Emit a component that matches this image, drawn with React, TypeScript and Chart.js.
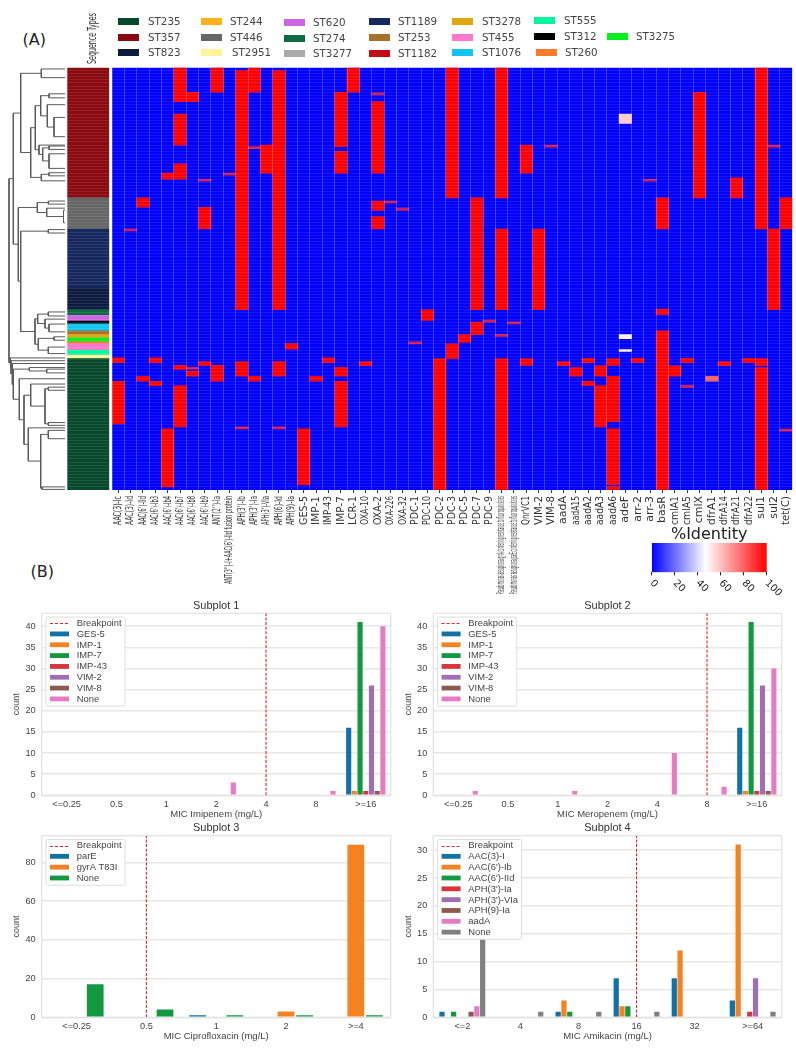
import React, { useEffect, useRef } from "react";
import { Chart, registerables } from "chart.js";

Chart.register(...registerables);

const ROW_COUNT = 136;

const genes = [
  "AAC(3)-Ic", "AAC(3)-Id", "AAC(6')-IId", "AAC(6')-Ib3", "AAC(6')-Ib4", "AAC(6')-Ib7", "AAC(6')-Ib8", "AAC(6')-Ib9",
  "ANT(2'')-Ia", "ANT(3'')-I+AAC(6')-IId fusion protein", "APH(3')-Ib", "APH(3')-Ia", "APH(3')-VIa", "APH(6)-Id", "APH(9)-Ia",
  "GES-5", "IMP-1", "IMP-43", "IMP-7", "LCR-1", "OXA-10", "OXA-2", "OXA-226", "OXA-32", "PDC-1", "PDC-10", "PDC-2", "PDC-3",
  "PDC-5", "PDC-7", "PDC-9", "Pseudomonas aeruginosa gyrA conferring resistance to fluoroquinolones",
  "Pseudomonas aeruginosa parE conferring resistance to fluoroquinolones", "QnrVC1", "VIM-2", "VIM-8", "aadA", "aadA15", "aadA2",
  "aadA3", "aadA6", "adeF", "arr-2", "arr-3", "basR", "cmlA1", "cmlA5", "cmlX", "dfrA1", "dfrA14", "dfrA21", "dfrA22", "sul1", "sul2", "tet(C)",
];

// [gene column, first row, last row, %identity]
const hits: [number, number, number, number][] = [
  [0, 93.5, 95, 100], [0, 101, 114.7, 100],
  [1, 52, 52.65, 100],
  [2, 42, 45, 100], [2, 99.4, 101, 100],
  [3, 93.5, 95, 100], [3, 101, 102.4, 100],
  [4, 34, 36, 100], [4, 116.3, 135, 100],
  [5, 0, 11, 100], [5, 15, 25, 100], [5, 31, 36, 100], [5, 95.9, 97.2, 100], [5, 102.4, 115.7, 100],
  [6, 8, 11, 100], [6, 96.5, 97.15, 100], [6, 97.7, 99.4, 100],
  [7, 36, 36.65, 100], [7, 45, 52, 100], [7, 94.7, 95.9, 100],
  [8, 0, 8, 100], [8, 95.9, 101, 100],
  [9, 34, 34.65, 100],
  [10, 1, 78, 100], [10, 94.7, 99.4, 100], [10, 115.7, 116.35, 100],
  [11, 0, 8, 100], [11, 25.5, 26.15, 100], [11, 99.4, 101, 100],
  [12, 25, 34, 100],
  [13, 1, 78, 100], [13, 94.7, 99.4, 100], [13, 115.7, 116.35, 100],
  [14, 88.9, 90.7, 100],
  [15, 116.3, 134.3, 100],
  [16, 99.4, 101, 100],
  [17, 93.5, 95, 100],
  [18, 8, 25.5, 100], [18, 27, 34, 100], [18, 96.5, 99.4, 100], [18, 101, 115.7, 100],
  [19, 0, 8, 100],
  [20, 94.7, 96, 100],
  [21, 8.2, 8.85, 100], [21, 11, 34, 100], [21, 43, 46, 100], [21, 48, 52, 100],
  [22, 43, 43.65, 100],
  [23, 45.3, 45.95, 100],
  [24, 88.3, 88.95, 100],
  [25, 78, 81.4, 100],
  [26, 93.7, 136, 100],
  [27, 0, 42, 100], [27, 89, 93.7, 100],
  [28, 86, 88.5, 100],
  [29, 42, 78, 100], [29, 82, 86, 100],
  [30, 81.3, 81.95, 100],
  [31, 0, 42, 100], [31, 52, 78, 100], [31, 85.9, 86.55, 100], [31, 93.7, 136, 100],
  [32, 81.9, 82.55, 100],
  [33, 25, 34, 100], [33, 93.7, 95.9, 100],
  [34, 52, 78, 100],
  [35, 25, 25.65, 100],
  [36, 94.7, 96, 100],
  [37, 96.6, 99.4, 100],
  [38, 93.6, 95, 100], [38, 101, 102.4, 100],
  [39, 96, 99.4, 100], [39, 102.4, 115.7, 100],
  [40, 93.7, 95.9, 100], [40, 99.4, 114, 100], [40, 116.3, 134.3, 100], [40, 134.9, 136, 100],
  [41, 15, 18, 60], [41, 86, 87.3, 53], [41, 90.8, 91.4, 53],
  [42, 93.6, 95, 100],
  [43, 36, 36.65, 100],
  [44, 42, 52, 100], [44, 77.8, 79.6, 100], [44, 84.8, 136, 100],
  [45, 96, 99.4, 100],
  [46, 93.6, 95, 100], [46, 102.3, 102.95, 100],
  [47, 8, 42, 100],
  [48, 99.4, 101, 81],
  [49, 94.7, 96, 100],
  [50, 35.5, 42, 100],
  [51, 93.6, 95, 100],
  [52, 0, 52, 100], [52, 93.7, 95.9, 100], [52, 96.6, 136, 100],
  [53, 25, 25.65, 100], [53, 52, 78, 100],
  [54, 42, 52, 100], [54, 116.4, 117.05, 100],
];

const stNames = ["ST235", "ST357", "ST823", "ST244", "ST446", "ST2951", "ST620", "ST274", "ST3277", "ST1189", "ST253", "ST1182", "ST3278", "ST455", "ST1076", "ST555", "ST312", "ST260", "ST3275"];
const stColors = ["#06492c", "#8b0a0f", "#0e1a40", "#fbb117", "#666666", "#fff49a", "#cc66e6", "#0e6a40", "#aaaaaa", "#15295f", "#a8702a", "#c40a14", "#e0a80c", "#ff77cc", "#11c5f0", "#00f5a0", "#000000", "#ff7a2a", "#00f020"];
// legend layout: [swatch left, text left, centre y]
const stLegendSpots: [number, number, number][] = [
  [118, 148, 21], [118, 148, 37], [118, 148, 52],
  [201, 230, 21], [201, 230, 37], [201, 232, 52],
  [284, 313, 22], [284, 313, 38], [284, 313, 53],
  [369, 398, 21], [369, 398, 37], [369, 398, 53],
  [452, 482, 21], [452, 482, 37], [452, 482, 52],
  [534, 564, 20], [534, 564, 36], [536, 565, 52],
  [607, 636, 36],
];

const stripST = ["ST357", "ST446", "ST1189", "ST823", "ST274", "ST620", "ST312", "ST1076", "ST253", "ST3278", "ST3275", "ST260", "ST455", "ST555", "ST2951", "ST235"];
const stripStart = [0, 42, 52, 71, 78, 79.8, 81.6, 82.5, 84.8, 86, 87, 88.3, 89, 91, 92.6, 93.7];
const stripEnd = [42, 52, 71, 78, 79.8, 81.6, 82.5, 84.8, 86, 87, 88.3, 89, 91, 92.6, 93.7, 136];

// dendrogram links: [row A, row B, height A, height B, parent height]
const dendroLinks: [number, number, number, number, number][] = [
  [0.5, 3.3, 0, 0, 23.7],
  [8.5, 9.8, 0, 0, 16], [16.1, 22.3, 0, 0, 11], [12, 19.2, 0, 11, 17.7], [9.1, 15.6, 16, 17.7, 24.3],
  [25.3, 26.4, 0, 0, 16], [27.8, 32.5, 0, 0, 16], [25.9, 30.1, 16, 16, 22.3], [25, 28, 0, 22.3, 26],
  [12.3, 26.5, 24.3, 26, 29.7], [33.9, 34.9, 0, 0, 16], [34.4, 36.5, 16, 0, 23.7], [19.4, 35.4, 29.7, 23.7, 34.3],
  [1.9, 27.4, 23.7, 34.3, 44.3],
  [43, 44, 0, 0, 16.6], [46, 50, 0, 0, 1.5], [45.3, 48, 0, 1.5, 18.3], [43.5, 46.7, 16.6, 18.3, 27.7],
  [52.2, 53.3, 0, 0, 16.7], [78.7, 80, 0, 0, 16.7], [82.6, 85.1, 0, 0, 16], [81, 83.9, 0, 16, 20],
  [79.4, 82.4, 16.7, 20, 27.3], [86.7, 87.8, 0, 0, 11], [90, 92.1, 0, 0, 16.7], [87.2, 91, 11, 16.7, 26.7],
  [80.9, 89.1, 27.3, 26.7, 30], [52.7, 85, 16.7, 30, 44.3], [45.1, 68.8, 27.7, 44.3, 46.7],
  [14.7, 56.9, 44.3, 46.7, 51.7],
  [97.1, 98.3, 0, 0, 18.3], [96.6, 97.7, 0, 18.3, 35.7], [102.9, 103.9, 0, 0, 16.7], [114.3, 115.2, 0, 0, 16.7],
  [103.4, 114.7, 16.7, 16.7, 20], [101.9, 109, 0, 20, 34.3], [116.8, 119.5, 0, 0, 16.7], [135, 135.8, 0, 0, 23],
  [118.1, 135.4, 16.7, 23, 24.3], [116, 126.7, 0, 24.3, 36.7], [105.5, 121.3, 34.3, 36.7, 41],
  [100.2, 113.4, 0, 41, 45.7], [97.1, 106.8, 35.7, 45.7, 51.7], [95.3, 102, 0, 51.7, 52.7],
  [94.4, 98.6, 0, 52.7, 54], [93.5, 96.5, 0, 54, 55], [35.8, 95, 51.7, 55, 56],
];

const micImipenem = ["<=0.25", "0.5", "1", "2", "4", "8", ">=16"];
const micMeropenem = ["<=0.25", "0.5", "1", "2", "4", "8", ">=16"];
const micCipro = ["<=0.25", "0.5", "1", "2", ">=4"];
const micAmikacin = ["<=2", "4", "8", "16", "32", ">=64"];

const s1Names = ["GES-5", "IMP-1", "IMP-7", "IMP-43", "VIM-2", "VIM-8", "None"];
const s1Values = [
  [0, 0, 0, 0, 0, 0, 16], [0, 0, 0, 0, 0, 0, 1], [0, 0, 0, 0, 0, 0, 41], [0, 0, 0, 0, 0, 0, 1],
  [0, 0, 0, 0, 0, 0, 26], [0, 0, 0, 0, 0, 0, 1], [0, 0, 0, 3, 0, 1, 40],
];
const s2Names = ["GES-5", "IMP-1", "IMP-7", "IMP-43", "VIM-2", "VIM-8", "None"];
const s2Values = [
  [0, 0, 0, 0, 0, 0, 16], [0, 0, 0, 0, 0, 0, 1], [0, 0, 0, 0, 0, 0, 41], [0, 0, 0, 0, 0, 0, 1],
  [0, 0, 0, 0, 0, 0, 26], [0, 0, 0, 0, 0, 0, 1], [1, 0, 1, 0, 10, 2, 30],
];
const s3Names = ["parE", "gyrA T83I", "None"];
const s3Values = [[0, 0, 1, 0, 0], [0, 0, 0, 3, 89], [17, 4, 1, 1, 1]];
const s4Names = ["AAC(3)-I", "AAC(6')-Ib", "AAC(6')-IId", "APH(3')-Ia", "APH(3')-VIa", "APH(9)-Ia", "aadA", "None"];
const s4Values = [
  [1, 0, 1, 7, 7, 3], [0, 0, 3, 2, 12, 31], [1, 0, 1, 2, 0, 0], [0, 0, 0, 0, 0, 1],
  [0, 0, 0, 0, 0, 7], [1, 0, 0, 0, 0, 0], [2, 0, 0, 0, 0, 0], [15, 1, 1, 1, 0, 1],
];
const barColors = ["#0f72a8", "#f58220", "#12993f", "#d8343a", "#9f6fb5", "#8f5a4e", "#e87ac3", "#808080"];

const colorbarTicks = [0, 20, 40, 60, 80, 100];

const SANS = "'Liberation Sans', Arial, sans-serif";
const DEJAVU = "'DejaVu Sans', sans-serif";
const INK = "#444444";

function bwr(v: number): string {
  if (v <= 50) {
    const c = Math.round((v / 50) * 255);
    return `rgb(${c},${c},255)`;
  }
  const c = Math.round(((100 - v) / 50) * 255);
  return `rgb(255,${c},${c})`;
}

function fixW(w: number) {
  return (s: any) => { s.width = w; };
}
function fixH(h: number) {
  return (s: any) => { s.height = h; };
}

const base = { responsive: false, animation: false as const, devicePixelRatio: 1, events: [] as string[] };

// Upright axis labels squeezed along their length, the way the picture's labels are.
function squeezedLabels(fontSize: number, color: string, anchorY: number, align: "left" | "right", offsetX: number, lengthOf: (label: string) => number) {
  return {
    id: "squeezedLabels",
    afterDraw(chart: any) {
      const { ctx } = chart;
      const xs = chart.scales.x;
      ctx.save();
      ctx.font = `${fontSize}px ${DEJAVU}`;
      ctx.fillStyle = color;
      ctx.textBaseline = "middle";
      ctx.textAlign = align;
      xs.ticks.forEach((t: any, i: number) => {
        const label = chart.data.labels[i];
        const natural = ctx.measureText(label).width;
        const cap = lengthOf(label);
        ctx.save();
        ctx.translate(xs.getPixelForTick(i) + offsetX, anchorY);
        ctx.rotate(-Math.PI / 2);
        ctx.scale(Math.min(1, cap / natural), 1);
        ctx.fillText(label, 0, 0);
        ctx.restore();
      });
      ctx.restore();
    },
  };
}

function geneLabelLength(label: string): number {
  if (label.startsWith("Pseudomonas")) return 98;
  if (label.startsWith("ANT(3")) return 88;
  return 29;
}

function heatmapConfig(): any {
  return {
    type: "bar",
    data: {
      labels: genes,
      datasets: [
        {
          label: "hits",
          order: 1,
          data: hits.map(([c, s, e, v]) => ({ x: genes[c], y: [s, e], v })),
          backgroundColor: (ctx: any) => {
            const r = ctx.raw;
            if (!r) return "red";
            if (r.v === 100 && r.y[1] - r.y[0] < 1) return "#d61c4e";
            return bwr(r.v);
          },
        },
        {
          label: "background",
          order: 2,
          data: genes.map((g) => ({ x: g, y: [0, ROW_COUNT] })),
          backgroundColor: bwr(0),
        },
      ],
    },
    options: {
      ...base,
      layout: { padding: { top: 7.4, right: 3.7, left: 0, bottom: 0 } },
      datasets: { bar: { grouped: false, barPercentage: 1, categoryPercentage: 1, borderWidth: 0 } },
      plugins: { legend: { display: false }, title: { display: false }, tooltip: { enabled: false } },
      scales: {
        x: {
          type: "category",
          offset: true,
          afterFit: fixH(110),
          border: { display: false },
          grid: { offset: false, drawOnChartArea: false, drawTicks: true, tickLength: 3, tickColor: "#333" },
          ticks: { display: false, autoSkip: false },
        },
        x2: {
          type: "category",
          labels: genes,
          position: "top",
          offset: true,
          afterFit: fixH(0),
          border: { display: false },
          grid: { offset: true, z: 1, color: "rgba(255,255,255,0.22)", lineWidth: 1, drawTicks: false },
          ticks: { display: false },
        },
        y: {
          reverse: true,
          min: 0,
          max: ROW_COUNT,
          afterFit: fixW(12),
          border: { display: false },
          grid: { z: 1, color: "rgba(255,255,255,0.09)", lineWidth: 1, drawTicks: false },
          ticks: { display: false, stepSize: 1, autoSkip: false },
        },
      },
    },
    plugins: [squeezedLabels(11, "#333", 436, "right", 0, geneLabelLength)],
  };
}

function stripConfig(): any {
  const label = "Sequence Types";
  return {
    type: "bar",
    data: {
      labels: [label],
      datasets: [
        {
          label,
          data: stripST.map((st, i) => ({ x: label, y: [stripStart[i], stripEnd[i]] })),
          backgroundColor: stripST.map((st) => stColors[stNames.indexOf(st)]),
        },
      ],
    },
    options: {
      ...base,
      layout: { padding: { left: 0, right: 2.7, bottom: 5 } },
      datasets: { bar: { barPercentage: 1, categoryPercentage: 1, borderWidth: 0 } },
      plugins: { legend: { display: false }, tooltip: { enabled: false } },
      scales: {
        x: {
          position: "top",
          afterFit: fixH(67.4),
          border: { display: false },
          grid: { display: false },
          ticks: { display: false },
        },
        y: {
          reverse: true,
          min: 0,
          max: ROW_COUNT,
          afterFit: fixW(7.3),
          border: { display: false },
          grid: { z: 1, color: "rgba(255,255,255,0.1)", drawTicks: false },
          ticks: { display: false, stepSize: 1, autoSkip: false },
        },
      },
    },
    plugins: [squeezedLabels(12, "#333", 64, "left", 4.3, () => 51)],
  };
}

function dendroConfig(): any {
  return {
    type: "scatter",
    data: {
      datasets: dendroLinks.map(([ra, rb, ha, hb, hp]) => ({
        data: [{ x: ha, y: ra }, { x: hp, y: ra }, { x: hp, y: rb }, { x: hb, y: rb }],
        showLine: true,
        pointRadius: 0,
        borderColor: "#5a5a5a",
        borderWidth: 1,
        tension: 0,
        clip: false,
      })),
    },
    options: {
      ...base,
      layout: { padding: { top: 7.4, bottom: 5, left: 5, right: 1 } },
      plugins: { legend: { display: false }, tooltip: { enabled: false } },
      scales: {
        x: { display: false, reverse: true, min: 0, max: 60 },
        y: { display: false, reverse: true, min: 0, max: ROW_COUNT },
      },
    },
  };
}

function colorbarConfig(): any {
  return {
    type: "bar",
    data: {
      labels: ["%Identity"],
      datasets: [
        {
          data: [[colorbarTicks[0], colorbarTicks[colorbarTicks.length - 1]]],
          backgroundColor: (ctx: any) => {
            const a = ctx.chart.chartArea;
            if (!a) return "blue";
            const g = ctx.chart.ctx.createLinearGradient(a.left, 0, a.right, 0);
            g.addColorStop(0, bwr(0));
            g.addColorStop(0.47, bwr(50));
            g.addColorStop(1, bwr(100));
            return g;
          },
        },
      ],
    },
    options: {
      ...base,
      indexAxis: "y",
      layout: { padding: { left: 11.7, right: 23.3 } },
      datasets: { bar: { barPercentage: 1, categoryPercentage: 1, borderWidth: 0 } },
      plugins: {
        legend: { display: false },
        tooltip: { enabled: false },
        title: {
          display: true,
          text: "%Identity",
          color: "#222",
          font: { family: DEJAVU, size: 16, weight: "normal", lineHeight: 1 },
          padding: { top: 7, bottom: 0 },
        },
      },
      scales: {
        y: { display: false },
        x: {
          min: 0,
          max: 100,
          afterFit: (s: any) => {
            s.height = 27.7;
            s._getXAxisLabelAlignment = () => "left";
          },
          border: { display: false },
          grid: { drawOnChartArea: false, tickLength: 3, tickColor: "#222" },
          ticks: { stepSize: 20, minRotation: -45, maxRotation: -45, padding: 2, color: "#222", font: { family: DEJAVU, size: 10 } },
        },
      },
    },
  };
}

const LEGEND_FONT = 9.4;

const boxedLegend = {
  id: "boxedLegend",
  beforeDatasetsDraw(chart: any) {
    const { ctx, chartArea: a } = chart;
    ctx.save();
    ctx.strokeStyle = "#e2e2e2";
    ctx.lineWidth = 1.2;
    ctx.strokeRect(a.left, a.top, a.right - a.left, a.bottom - a.top);
    ctx.restore();
  },
  afterDatasetsDraw(chart: any) {
    const { ctx, chartArea: a } = chart;
    const sets = chart.data.datasets;
    ctx.save();
    ctx.font = `${LEGEND_FONT}px ${SANS}`;
    const textW = Math.max(...sets.map((d: any) => ctx.measureText(d.label).width));
    const left = a.left + 4.3;
    const top = a.top + 3.8;
    const w = 30.7 + textW + 3.6;
    const h = 6 + (sets.length - 1) * 10.83 + 7.2;
    ctx.fillStyle = "rgba(255,255,255,0.97)";
    ctx.strokeStyle = "#dddddd";
    ctx.lineWidth = 1;
    ctx.beginPath();
    ctx.roundRect(left, top, w, h, 1.5);
    ctx.fill();
    ctx.stroke();
    sets.forEach((d: any, i: number) => {
      const y = top + 6 + i * 10.83;
      if (d.type === "line") {
        const ly = Math.round(y) + 0.5;
        ctx.strokeStyle = d.borderColor;
        ctx.lineWidth = 1.1;
        ctx.setLineDash([3, 2]);
        ctx.beginPath();
        ctx.moveTo(left + 4, ly);
        ctx.lineTo(left + 23, ly);
        ctx.stroke();
        ctx.setLineDash([]);
      } else {
        ctx.fillStyle = d.backgroundColor;
        ctx.fillRect(left + 4, y - 2.4, 19, 4.8);
      }
      ctx.fillStyle = INK;
      ctx.textBaseline = "middle";
      ctx.textAlign = "left";
      ctx.fillText(d.label, left + 30.7, y + 0.3);
    });
    ctx.restore();
  },
};

function micConfig(title: string, axisTitle: string, cats: string[], names: string[], values: number[][], breakpoint: string, yMax: number, step: number, geom: { canvasLeft: number; plotLeft: number; plotRight: number; width: number; plotTopRel: number }): any {
  return {
    type: "bar",
    data: {
      labels: cats,
      datasets: [
        {
          type: "line",
          label: "Breakpoint",
          data: [{ x: breakpoint, y: 0 }, { x: breakpoint, y: yMax }],
          borderColor: "#e0262e",
          borderWidth: 1.1,
          borderDash: [3, 1.6],
          pointRadius: 0,
        },
        ...names.map((n, i) => ({
          type: "bar",
          label: n,
          data: values[i],
          backgroundColor: barColors[i],
          barPercentage: 0.9,
          categoryPercentage: 0.8,
          borderWidth: 0,
        })),
      ],
    },
    options: {
      ...base,
      layout: { padding: { left: 0, right: geom.width - (geom.plotRight - geom.canvasLeft), top: 0, bottom: 0 } },
      plugins: {
        legend: { display: false },
        tooltip: { enabled: false },
        title: {
          display: true,
          fullSize: false,
          text: title,
          color: "#333",
          font: { family: SANS, size: 11, weight: "normal", lineHeight: 1.2 },
          padding: { top: 1.4, bottom: geom.plotTopRel - 1.4 - 13.2 },
        },
      },
      scales: {
        x: {
          offset: true,
          afterFit: fixH(24.7),
          border: { display: false },
          grid: { display: false, drawTicks: false },
          ticks: { autoSkip: false, maxRotation: 0, padding: 4, color: INK, font: { family: SANS, size: 9.2 } },
          title: { display: true, text: axisTitle, color: INK, font: { family: SANS, size: 9.5, lineHeight: 1.2 }, padding: { top: 1, bottom: 0 } },
        },
        y: {
          min: 0,
          max: yMax,
          afterFit: fixW(geom.plotLeft - geom.canvasLeft),
          border: { display: false },
          grid: { color: "#e8e8e8", lineWidth: 1.4, drawTicks: false },
          ticks: { stepSize: step, includeBounds: false, padding: 6, color: INK, font: { family: SANS, size: 9.2 } },
          title: { display: true, text: "count", color: INK, font: { family: SANS, size: 9, lineHeight: 1.2 }, padding: { top: 11.2, bottom: 0 } },
        },
      },
    },
    plugins: [boxedLegend],
  };
}

function Plot({ left, top, width, height, build }: { left: number; top: number; width: number; height: number; build: () => any }) {
  const ref = useRef<HTMLCanvasElement | null>(null);
  useEffect(() => {
    const chart = new Chart(ref.current as HTMLCanvasElement, build());
    return () => chart.destroy();
  }, []);
  return <canvas ref={ref} width={width} height={height} style={{ position: "absolute", left, top, width, height, filter: "blur(0.4px)" }} />;
}

const row1 = { plotTopRel: 15.3 };
const row2 = { plotTopRel: 15.7 };
const leftCol = { canvasLeft: 0, plotLeft: 41.7, plotRight: 390.7, width: 392 };
const rightCol = { canvasLeft: 392, plotLeft: 433.3, plotRight: 781.7, width: 400 };

export default function App() {
  return (
    <div style={{ position: "absolute", left: 0, top: 0, width: 796, height: 1050, background: "#fff", overflow: "hidden" }}>
      <div style={{ position: "absolute", left: 22.5, top: 30, font: `16px ${DEJAVU}`, color: "#222" }}>(A)</div>
      <div style={{ position: "absolute", left: 30.5, top: 561.5, font: `16px ${DEJAVU}`, color: "#222" }}>(B)</div>
      {stNames.map((st, i) => {
        const [sx, tx, y] = stLegendSpots[i];
        return (
          <React.Fragment key={st}>
            <div style={{ position: "absolute", left: sx, top: y - 3.5, width: 21, height: 7, background: stColors[i], filter: "blur(0.4px)" }} />
            <div style={{ position: "absolute", left: tx, top: y - 7, font: `10.3px/14px ${DEJAVU}`, color: "#444", whiteSpace: "nowrap", filter: "blur(0.3px)" }}>{st}</div>
          </React.Fragment>
        );
      })}
      <Plot left={0} top={60} width={66} height={435} build={dendroConfig} />
      <Plot left={60} top={0} width={52} height={495} build={stripConfig} />
      <Plot left={100} top={60} width={696} height={540} build={heatmapConfig} />
      <Plot left={640} top={520} width={150} height={80} build={colorbarConfig} />
      <Plot left={0} top={598} width={392} height={222} build={() => micConfig("Subplot 1", "MIC Imipenem (mg/L)", micImipenem, s1Names, s1Values, "4", 43.05, 5, { ...leftCol, ...row1 })} />
      <Plot left={392} top={598} width={400} height={222} build={() => micConfig("Subplot 2", "MIC Meropenem (mg/L)", micMeropenem, s2Names, s2Values, "8", 43.05, 5, { ...rightCol, ...row1 })} />
      <Plot left={0} top={820} width={392} height={222} build={() => micConfig("Subplot 3", "MIC Ciprofloxacin (mg/L)", micCipro, s3Names, s3Values, "0.5", 93.7, 20, { ...leftCol, ...row2 })} />
      <Plot left={392} top={820} width={400} height={222} build={() => micConfig("Subplot 4", "MIC Amikacin (mg/L)", micAmikacin, s4Names, s4Values, "16", 32.6, 5, { ...rightCol, ...row2 })} />
    </div>
  );
}
